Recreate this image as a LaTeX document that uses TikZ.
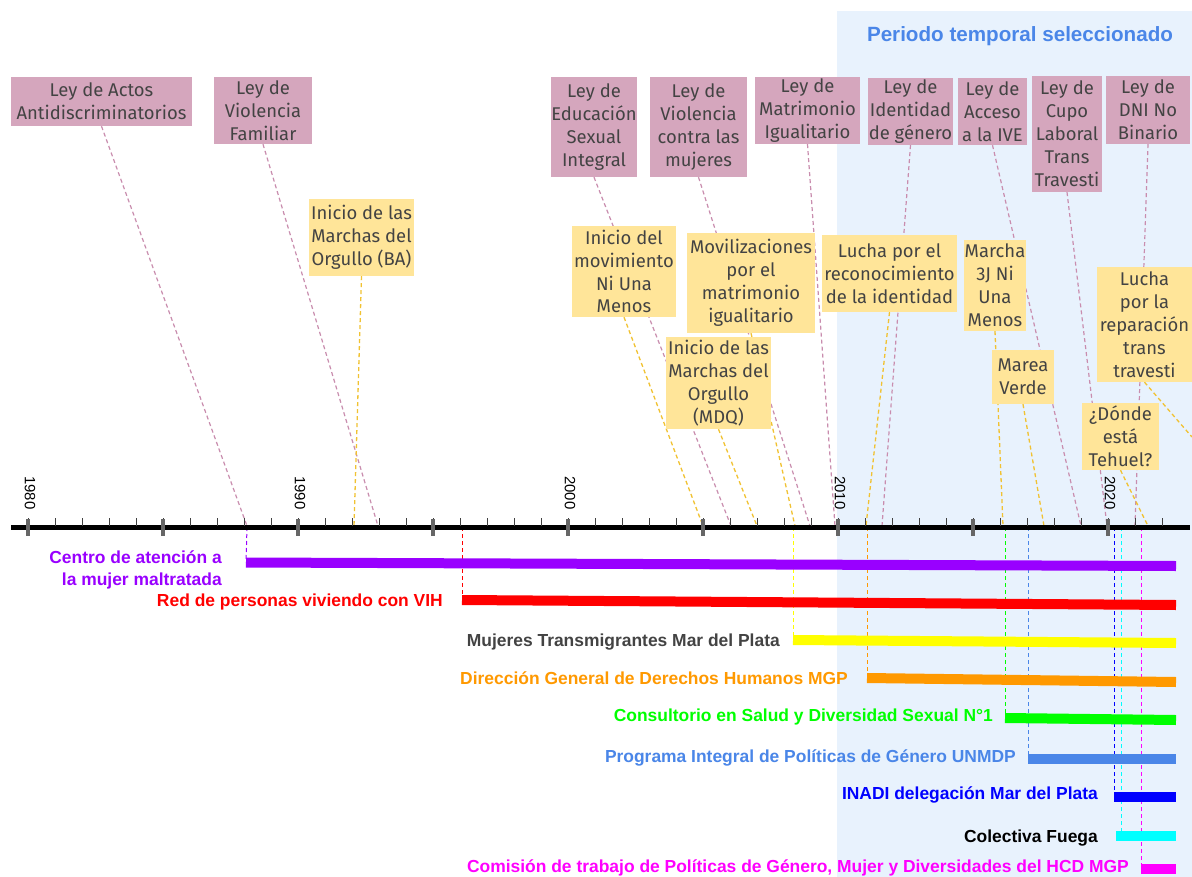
\documentclass[tikz,border=0pt]{standalone}
\usepackage{fontspec}
\setmainfont{Liberation Sans}
\newfontfamily\boxfont{Fira Sans}
\pgfdeclarelayer{back}
\pgfdeclarelayer{lines}
\pgfsetlayers{back,lines,main}
\definecolor{lawpink}{HTML}{D5A6BD}
\definecolor{evyellow}{HTML}{FFE599}
\definecolor{pinkline}{HTML}{C98DAE}
\definecolor{yelline}{HTML}{F1C232}
\definecolor{periodbg}{HTML}{E8F2FD}
\definecolor{titleblue}{HTML}{4A86E8}
\definecolor{boxtext}{HTML}{434343}
\definecolor{cpurple}{HTML}{9900FF}
\definecolor{cred}{HTML}{FF0000}
\definecolor{cyel}{HTML}{FFFF00}
\definecolor{corange}{HTML}{FF9900}
\definecolor{cgreen}{HTML}{00FF00}
\definecolor{ccorn}{HTML}{4A86E8}
\definecolor{cblue}{HTML}{0000FF}
\definecolor{ccyan}{HTML}{00FFFF}
\definecolor{cmag}{HTML}{FF00FF}
\definecolor{cdark}{HTML}{434343}
\definecolor{tickgray}{HTML}{666666}
\begin{document}
\begin{tikzpicture}[x=1bp,y=-1bp,
  lawbox/.style={fill=lawpink, text=boxtext, font=\boxfont\fontsize{18.5}{23}\selectfont, align=center, inner sep=0pt},
  evbox/.style={fill=evyellow, text=boxtext, font=\boxfont\fontsize{18.5}{23}\selectfont, align=center, inner sep=0pt},
  pinkdash/.style={draw=pinkline, line width=1.2bp, dash pattern=on 4bp off 3bp},
  yeldash/.style={draw=yelline, line width=1.3bp, dash pattern=on 4bp off 3bp},
  vdash/.style={line width=1bp, dash pattern=on 4bp off 3bp},
  bar/.style={line width=10bp},
  barlabel/.style={font=\bfseries\fontsize{17.5}{22}\selectfont, anchor=east, align=right, inner sep=0pt},
  yearlabel/.style={font=\fontsize{15}{18}\selectfont, inner sep=0pt},
  minortick/.style={draw=black!75, line width=1bp},
  majortick/.style={draw=tickgray, line width=3.5bp}
]
\useasboundingbox (0,0) rectangle (1192,877);

% background of the selected period
\begin{pgfonlayer}{back}
\fill[white] (0,0) rectangle (1192,877);
\fill[periodbg] (837,11) rectangle (1192,877);
\end{pgfonlayer}

\node[font=\bfseries\fontsize{20.7}{24}\selectfont, text=titleblue, inner sep=0pt] (title) at (1020,36) {Periodo temporal seleccionado};

% law boxes
\node[lawbox, minimum width=181bp, minimum height=49bp] (l1) at (101.5,101.5) {Ley de Actos\\Antidiscriminatorios};
\node[lawbox, minimum width=98bp, minimum height=67bp] (l2) at (263,110.5) {Ley de\\Violencia\\Familiar};
\node[lawbox, minimum width=86bp, minimum height=100bp] (l3) at (594,127) {Ley de\\Educación\\Sexual\\Integral};
\node[lawbox, minimum width=97bp, minimum height=100bp] (l4) at (698.5,127) {Ley de\\Violencia\\contra las\\mujeres};
\node[lawbox, minimum width=105bp, minimum height=67bp] (l5) at (807.5,110.5) {Ley de\\Matrimonio\\Igualitario};
\node[lawbox, minimum width=85bp, minimum height=67bp] (l6) at (910.5,111.5) {Ley de\\Identidad\\de género};
\node[lawbox, minimum width=69bp, minimum height=67bp] (l7) at (992.5,111.5) {Ley de\\Acceso\\a la IVE};
\node[lawbox, minimum width=70bp, minimum height=116bp] (l8) at (1067,134) {Ley de\\Cupo\\Laboral\\Trans\\Travesti};
\node[lawbox, minimum width=84bp, minimum height=68bp] (l9) at (1148,110) {Ley de\\DNI No\\Binario};

% event boxes
\node[evbox, minimum width=105bp, minimum height=77bp] (e1) at (361.5,237.5) {Inicio de las\\Marchas del\\Orgullo (BA)};
\node[evbox, minimum width=104bp, minimum height=91bp] (e2) at (624,271.5) {Inicio del\\movimiento\\Ni Una\\Menos};
\node[evbox, minimum width=128bp, minimum height=100bp] (e3) at (751,283) {Movilizaciones\\por el\\matrimonio\\igualitario};
\node[evbox, minimum width=105bp, minimum height=92bp] (e4) at (718.5,383) {Inicio de las\\Marchas del\\Orgullo\\(MDQ)};
\node[evbox, minimum width=135bp, minimum height=77bp] (e5) at (889.5,273.5) {Lucha por el\\reconocimiento\\de la identidad};
\node[evbox, minimum width=62bp, minimum height=91bp] (e6) at (995,285.5) {Marcha\\3J Ni\\Una\\Menos};
\node[evbox, minimum width=62bp, minimum height=54bp] (e7) at (1023,377) {Marea\\Verde};
\node[evbox, minimum width=95bp, minimum height=115bp] (e8) at (1144.5,324.5) {Lucha\\por la\\reparación\\trans\\travesti};
\node[evbox, minimum width=77bp, minimum height=67bp] (e9) at (1120.5,436.5) {¿Dónde\\está\\Tehuel?};

% points on the axis
\coordinate (a247) at (247,526);
\coordinate (a378) at (378,526);
\coordinate (a354) at (354,526);
\coordinate (a462) at (462,527);
\coordinate (a703) at (703,526);
\coordinate (a731) at (731,526);
\coordinate (a757) at (757,526);
\coordinate (a795) at (795,526);
\coordinate (a793) at (793,527);
\coordinate (a810) at (810,526);
\coordinate (a835) at (835,526);
\coordinate (a866) at (866,526);
\coordinate (a867) at (867,527);
\coordinate (a882) at (882,526);
\coordinate (a1003) at (1003,526);
\coordinate (a1005) at (1005,527);
\coordinate (a1028) at (1028,527);
\coordinate (a1044) at (1044,526);
\coordinate (a1081) at (1081,526);
\coordinate (a1107) at (1107,526);
\coordinate (a1114) at (1114,527);
\coordinate (a1121) at (1121,527);
\coordinate (a1135) at (1135,526);
\coordinate (a1141) at (1141,527);
\coordinate (a1148) at (1148,526);
\coordinate (edge) at (1192,437);

% bar ends
\coordinate (p1s) at (246,562.5);  \coordinate (p1e) at (1176,566);
\coordinate (p2s) at (462,600);    \coordinate (p2e) at (1176,605);
\coordinate (p3s) at (793,640);    \coordinate (p3e) at (1176,643);
\coordinate (p4s) at (867,678);    \coordinate (p4e) at (1176,682);
\coordinate (p5s) at (1005,718);   \coordinate (p5e) at (1176,720);
\coordinate (p6s) at (1028,759);   \coordinate (p6e) at (1176,759);
\coordinate (p7s) at (1114,797);   \coordinate (p7e) at (1176,797);
\coordinate (p8s) at (1116,836);   \coordinate (p8e) at (1176,836);
\coordinate (p9s) at (1141,869);   \coordinate (p9e) at (1176,869);

% connectors behind the boxes
\begin{pgfonlayer}{lines}
\draw[pinkdash] (l1.south) -- (a247);
\draw[pinkdash] (l2.south) -- (a378);
\draw[pinkdash] (l3.south) -- (a731);
\draw[pinkdash] (l4.south) -- (a810);
\draw[pinkdash] (l5.south) -- (a835);
\draw[pinkdash] (l6.south) -- (a882);
\draw[pinkdash] (l7.south) -- (a1081);
\draw[pinkdash] (l8.south) -- (a1107);
\draw[pinkdash] (l9.south) -- (a1135);
\draw[yeldash] (e1.south) -- (a354);
\draw[yeldash] (e2.south) -- (a703);
\draw[yeldash] (e3.south) -- (a795);
\draw[yeldash] (e4.south) -- (a757);
\draw[yeldash] (e5.south) -- (a866);
\draw[yeldash] (e6.south) -- (a1003);
\draw[yeldash] (e7.south) -- (a1044);
\draw[yeldash] (e8.south) -- (edge);
\draw[yeldash] (e9.south) -- (a1148);
% below the axis
\draw[vdash, draw=cpurple] (a247 |- 0,527) -- (p1s);
\draw[vdash, draw=cred] (a462) -- (p2s);
\draw[vdash, draw=cyel] (a793) -- (p3s);
\draw[vdash, draw=corange] (a867) -- (p4s);
\draw[vdash, draw=cgreen] (a1005) -- (p5s);
\draw[vdash, draw=ccorn] (a1028) -- (p6s);
\draw[vdash, draw=cblue] (a1114) -- (p7s);
\draw[vdash, draw=ccyan] (a1121) -- (a1121 |- p8s);
\draw[vdash, draw=cmag] (a1141) -- (p9s);
\end{pgfonlayer}

% axis
\coordinate (axL) at (11,527);
\coordinate (axR) at (1190,527);
\draw[line width=5bp] (axL) -- (axR);
\foreach \i in {0,...,42} {\draw[minortick] (28+27*\i,518) -- (28+27*\i,526);}
\foreach \i in {0,5,...,40} {\draw[majortick] (28+27*\i,519) -- (28+27*\i,536);}
\foreach \y/\i in {1980/0,1990/10,2000/20,2010/30,2020/40} {\node[yearlabel, rotate=-90] (y\y) at (30+27*\i,493) {\y};}

% bars
\draw[bar, draw=cpurple] (p1s) -- (p1e);
\draw[bar, draw=cred] (p2s) -- (p2e);
\draw[bar, draw=cyel] (p3s) -- (p3e);
\draw[bar, draw=corange] (p4s) -- (p4e);
\draw[bar, draw=cgreen] (p5s) -- (p5e);
\draw[bar, draw=ccorn] (p6s) -- (p6e);
\draw[bar, draw=cblue] (p7s) -- (p7e);
\draw[bar, draw=ccyan] (p8s) -- (p8e);
\draw[bar, draw=cmag] (p9s) -- (p9e);

% bar labels
\node[barlabel, text=cpurple] (t1) at (222,570) {Centro de atención a\\la mujer maltratada};
\node[barlabel, text=cred] (t2) at (443,602) {Red de personas viviendo con VIH};
\node[barlabel, text=cdark] (t3) at (780,642) {Mujeres Transmigrantes Mar del Plata};
\node[barlabel, text=corange] (t4) at (848,678) {Dirección General de Derechos Humanos MGP};
\node[barlabel, text=cgreen] (t5) at (993,717) {Consultorio en Salud y Diversidad Sexual N°1};
\node[barlabel, text=ccorn] (t6) at (1016,758) {Programa Integral de Políticas de Género UNMDP};
\node[barlabel, text=cblue] (t7) at (1098,795) {INADI delegación Mar del Plata};
\node[barlabel, text=black] (t8) at (1098,838) {Colectiva Fuega};
\node[barlabel, text=cmag] (t9) at (1129,868) {Comisión de trabajo de Políticas de Género, Mujer y Diversidades del HCD MGP};
\end{tikzpicture}
\end{document}
